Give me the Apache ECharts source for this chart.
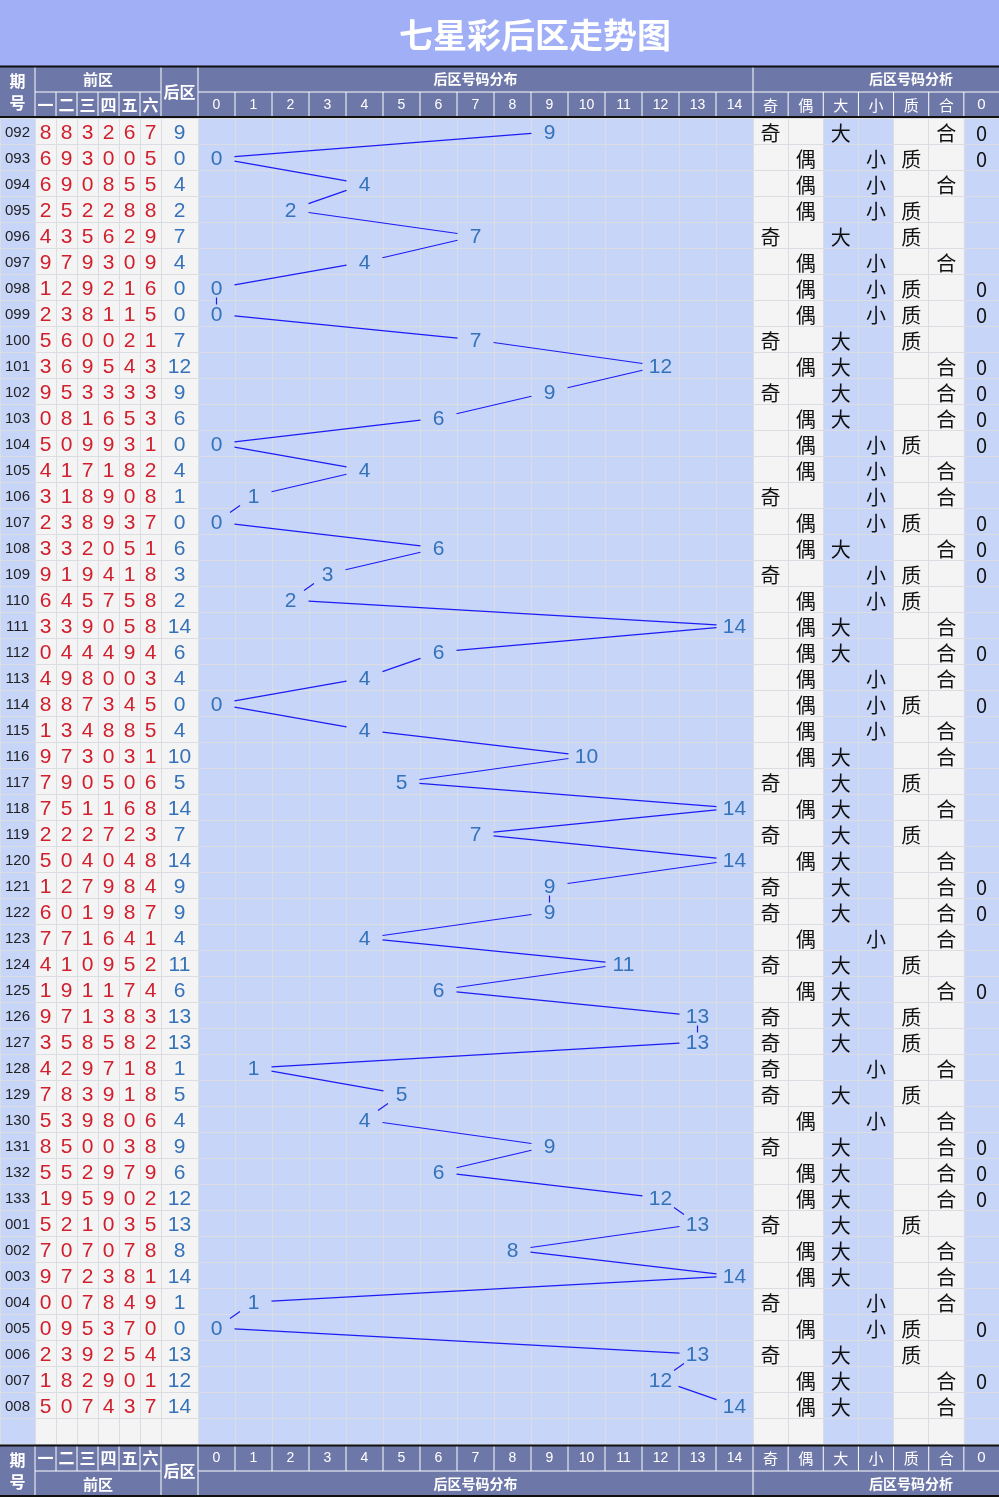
<!DOCTYPE html>
<html>
<head>
<meta charset="utf-8">
<script src="https://cdn.jsdelivr.net/npm/echarts@6/dist/echarts.min.js"></script>
<style>
  html, body { margin: 0; padding: 0; background: #fff; }
  #chart { width: 999px; height: 1497px; }
</style>
</head>
<body>
<div id="chart"></div>
<script>
// 期号
const periods = ['092','093','094','095','096','097','098','099','100','101',
  '102','103','104','105','106','107','108','109','110','111',
  '112','113','114','115','116','117','118','119','120','121',
  '122','123','124','125','126','127','128','129','130','131',
  '132','133','001','002','003','004','005','006','007','008']
// 前区 6 digits per period
const frontNums = ['883267','693005','690855','252288','435629','979309','129216','238115','560021','369543',
  '953333','081653','509931','417182','318908','238937','332051','919418','645758','339058',
  '044494','498003','887345','134885','973031','790506','751168','222723','504048','127984',
  '601987','771641','410952','191174','971383','358582','429718','783918','539806','850038',
  '552979','195902','521035','707078','972381','007849','095370','239254','182901','507437']
// 后区
const rearNums = [9,0,4,2,7,4,0,0,7,12, 9,6,0,4,1,0,6,3,2,14, 6,4,0,4,10,5,14,7,14,9,
  9,4,11,6,13,13,1,5,4,9, 6,12,13,8,14,1,0,13,12,14]
// 分析列
const oddEven   = '奇偶偶偶奇偶偶偶奇偶奇偶偶偶奇偶偶奇偶偶偶偶偶偶偶奇偶奇偶奇奇偶奇偶奇奇奇奇偶奇偶偶奇偶偶奇偶奇偶偶'.split('')
const bigSmall  = '大小小小大小小小大大大大小小小小大小小大大小小小大大大大大大大小大大大大小大小大大大大大大小小大大大'.split('')
const primeComp = '合质合质质合质质质合合合质合合质合质质合合合质合合质合质合合合合质合质质合质合合合合质合合合质质合合'.split('')
const zeroMark  = '00----00-0000--000--0-0------00--0-----000----0-0-'.split('')

// 表头
const frontHeads = ['一','二','三','四','五','六']
const rearTicks = ['0','1','2','3','4','5','6','7','8','9','10','11','12','13','14']
const analysisHeads = ['奇','偶','大','小','质','合','0']

const BLUE = '#c7d5f8'
const GRAY = '#f4f4f4'
const HEAD = '#6d77a8'
const GRIDLINE = '#dcdde3'
const NUMFONT = 'Liberation Sans, Arial, sans-serif'
const CJKFONT = '"Noto Sans CJK SC", sans-serif'

const rowH = 26
const bodyTop = 118
const rowCats = periods.concat([' '])
const bodyH = rowH * rowCats.length
const textDy = 2

const blocks = [
  { left: 0, width: 35, cats: ['期号'], colors: [BLUE] },
  { left: 35, width: 126, cats: frontHeads, colors: [GRAY] },
  { left: 161, width: 37, cats: ['后区'], colors: [GRAY] },
  { left: 198, width: 555, cats: rearTicks, colors: [BLUE] },
  { left: 753, width: 246, cats: analysisHeads, colors: [GRAY, GRAY, BLUE, BLUE, GRAY, GRAY, BLUE] }
]

const chart = echarts.init(document.getElementById('chart'))

const grids = blocks.map(b => ({ left: b.left, width: b.width, top: bodyTop, height: bodyH, show: false }))
const xAxes = blocks.map((b, i) => ({
  type: 'category', gridIndex: i, data: b.cats, boundaryGap: true, z: 0,
  axisLine: { show: false }, axisTick: { show: false, interval: 0 }, axisLabel: { show: false, interval: 0 },
  splitLine: { show: true, interval: 0, lineStyle: { color: GRIDLINE, width: 1 } },
  splitArea: { show: true, interval: 0, areaStyle: { color: b.colors } }
}))
const yAxes = blocks.map((b, i) => ({
  type: 'category', gridIndex: i, data: rowCats, inverse: true, boundaryGap: true, z: 1,
  axisLine: { show: false }, axisTick: { show: false, interval: 0 }, axisLabel: { show: false, interval: 0 },
  splitLine: { show: true, interval: 0, lineStyle: { color: GRIDLINE, width: 1 } }
}))

// text cells drawn through the axes
function textSeries(gridIndex, items, fill, font) {
  return {
    type: 'custom', xAxisIndex: gridIndex, yAxisIndex: gridIndex, clip: false, z: 5,
    data: items.map(d => [d.x, d.y]),
    encode: { x: 0, y: 1 },
    renderItem: (params, api) => {
      const it = items[params.dataIndex]
      const p = api.coord([it.x, it.y])
      return {
        type: 'text', x: p[0], y: p[1] + textDy,
        style: { text: it.text, fill: fill, font: font, align: 'center', verticalAlign: 'middle',
          textAlign: 'center', textVerticalAlign: 'middle' }
      }
    }
  }
}

const periodItems = periods.map((p, i) => ({ x: 0, y: i, text: p }))
const frontItems = []
frontNums.forEach((s, i) => s.split('').forEach((d, c) => frontItems.push({ x: c, y: i, text: d })))
const rearItems = rearNums.map((v, i) => ({ x: 0, y: i, text: String(v) }))
const distItems = rearNums.map((v, i) => ({ x: v, y: i, text: String(v) }))
const anaItems = []
periods.forEach((p, i) => {
  anaItems.push({ x: oddEven[i] === '奇' ? 0 : 1, y: i, text: oddEven[i] })
  anaItems.push({ x: bigSmall[i] === '大' ? 2 : 3, y: i, text: bigSmall[i] })
  anaItems.push({ x: primeComp[i] === '质' ? 4 : 5, y: i, text: primeComp[i] })
  if (zeroMark[i] === '0') anaItems.push({ x: 6, y: i, text: '0' })
})

// trend line, trimmed around the labels
const trimW = 18, trimH = 9.5
const trendSeries = {
  type: 'custom', xAxisIndex: 3, yAxisIndex: 3, clip: false, z: 4,
  data: rearNums.map((v, i) => [v, i]),
  encode: { x: 0, y: 1 },
  renderItem: (params, api) => {
    const i = params.dataIndex
    if (i >= rearNums.length - 1) return
    const a = api.coord([rearNums[i], i])
    const b = api.coord([rearNums[i + 1], i + 1])
    const dx = b[0] - a[0], dy = b[1] - a[1]
    const t = Math.min(dx === 0 ? Infinity : trimW / Math.abs(dx), dy === 0 ? Infinity : trimH / Math.abs(dy))
    if (t >= 0.5) return
    return {
      type: 'line',
      shape: { x1: a[0] + dx * t, y1: a[1] + dy * t + 1, x2: b[0] - dx * t, y2: b[1] - dy * t + 1 },
      style: { stroke: '#1c1cf5', lineWidth: 1.2 }
    }
  }
}

// header / footer blocks
const colEdges = {
  front: [35, 56, 77, 98, 119, 140, 161],
  dist: rearTicks.map((t, k) => 198 + 37 * k).concat([753]),
  ana: analysisHeads.map((t, k) => 753 + 246 / 7 * k).concat([999])
}
const mid = (arr, k) => (arr[k] + arr[k + 1]) / 2

function txt(text, x, y, size, extra) {
  return Object.assign({
    type: 'text', x: x, y: y, silent: true, z: 10,
    style: { text: text, fill: '#fff', font: 'bold ' + size + 'px ' + CJKFONT,
      align: 'center', verticalAlign: 'middle', textAlign: 'center', textVerticalAlign: 'middle' }
  }, extra || {})
}
function ln(x1, y1, x2, y2, color, w) {
  return { type: 'line', silent: true, z: 11, shape: { x1, y1, x2, y2 }, style: { stroke: color, lineWidth: w } }
}

function headerBlock(top, subFirst) {
  const els = []
  const yGroup = subFirst ? top + 39 : top + 13
  const ySub = subFirst ? top + 13 : top + 39
  const ySplit = top + 26
  els.push({ type: 'rect', z: 9, silent: true, shape: { x: 0, y: top, width: 999, height: 52 }, style: { fill: HEAD } })
  // spanning cells
  els.push(txt('期\n号', 17.5, top + 26, 16, { style: Object.assign(txt('', 0, 0, 16).style, { text: '期\n号', lineHeight: 22 }) }))
  els.push(txt('后区', 179.5, top + 26, 16))
  // group titles
  els.push(txt('前区', 98, yGroup, 15))
  els.push(txt('后区号码分布', 475.5, yGroup, 14))
  els.push(txt('后区号码分析', 911, yGroup, 14))
  // sub headers
  frontHeads.forEach((h, k) => els.push(txt(h, mid(colEdges.front, k), ySub, 16)))
  rearTicks.forEach((h, k) => els.push(txt(h, mid(colEdges.dist, k), ySub, 14,
    { style: Object.assign(txt('', 0, 0, 14).style, { text: h, font: '14px ' + NUMFONT }) })))
  analysisHeads.forEach((h, k) => els.push(txt(h, mid(colEdges.ana, k), ySub, 15,
    { style: Object.assign(txt('', 0, 0, 15).style, { text: h, font: (h === '0' ? '15px ' + NUMFONT : '15px ' + CJKFONT) }) })))
  // white grid lines
  ;[35, 161, 198, 753].forEach(x => els.push(ln(x, top, x, top + 52, '#fff', 1)))
  els.push(ln(35, ySplit, 161, ySplit, '#fff', 1))
  els.push(ln(198, ySplit, 999, ySplit, '#fff', 1))
  const subTop = subFirst ? top : ySplit
  colEdges.front.slice(1, -1).forEach(x => els.push(ln(x, subTop, x, subTop + 26, '#fff', 1)))
  colEdges.dist.slice(1, -1).forEach(x => els.push(ln(x, subTop, x, subTop + 26, '#fff', 1)))
  colEdges.ana.slice(1, -1).forEach(x => els.push(ln(x, subTop, x, subTop + 26, '#fff', 1)))
  // dark borders
  els.push(ln(0, top + 0.5, 999, top + 0.5, '#111', 2))
  els.push(ln(0, top + 51, 999, top + 51, '#111', 2))
  return els
}

const graphics = [
  { type: 'rect', silent: true, z: 9, shape: { x: 0, y: 0, width: 999, height: 66 }, style: { fill: '#a1aff6' } },
  txt('七星彩后区走势图', 535, 35, 34)
].concat(headerBlock(66, false)).concat(headerBlock(1445, true))

const option = {
  backgroundColor: '#fff',
  animation: false,
  grid: grids,
  xAxis: xAxes,
  yAxis: yAxes,
  graphic: { elements: graphics },
  series: [
    textSeries(0, periodItems, '#222', '15px ' + NUMFONT),
    textSeries(1, frontItems, '#d0202e', '21px ' + NUMFONT),
    textSeries(2, rearItems, '#3572b9', '21px ' + NUMFONT),
    trendSeries,
    textSeries(3, distItems, '#3572b9', '21px ' + NUMFONT),
    textSeries(4, anaItems, '#111', '20px ' + CJKFONT)
  ]
}

chart.setOption(option)
</script>
</body>
</html>
